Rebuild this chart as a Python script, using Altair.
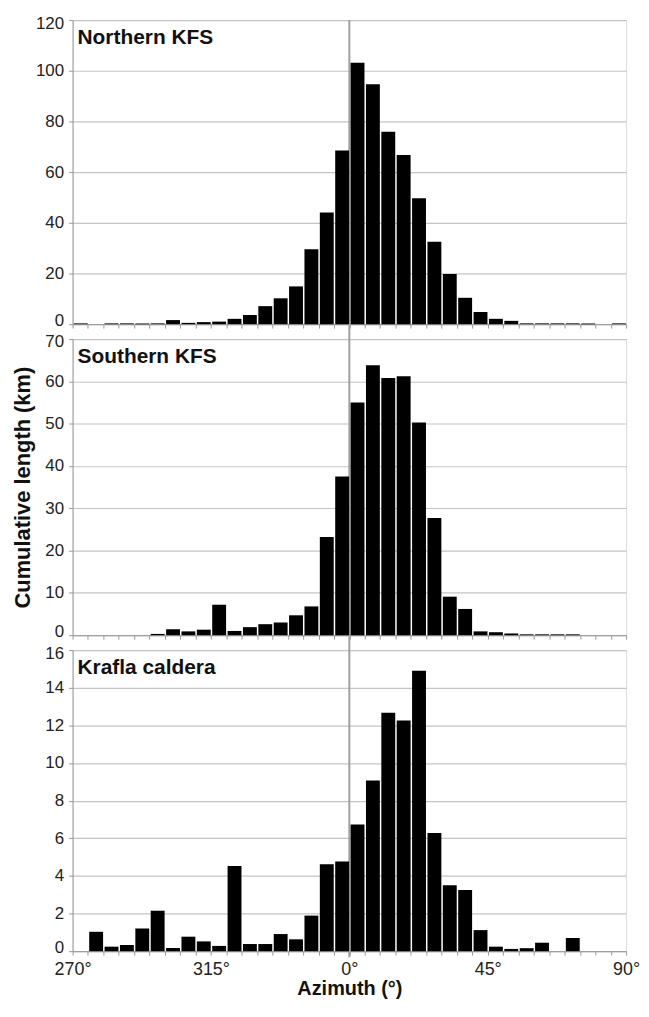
import altair as alt
import pandas as pd

# ---- data ----
bin_starts = list(range(-90, 90, 5))  # 5-degree azimuth bins, -90 (=270°) .. 85

north = [0.3, 0.0, 0.3, 0.3, 0.3, 0.3, 1.6, 0.5, 0.8, 1.0, 2.1, 3.6, 7.1, 10.2, 14.9, 29.6, 44.1, 68.5,
         103.2, 94.7, 75.9, 66.8, 49.7, 32.5, 19.8, 10.4, 4.8, 2.1, 1.3, 0.3, 0.3, 0.3, 0.3, 0.3, 0.0, 0.3]
south = [0.0, 0.0, 0.0, 0.0, 0.0, 0.3, 1.4, 0.9, 1.3, 7.2, 1.0, 1.9, 2.6, 3.0, 4.7, 6.8, 23.2, 37.5,
         55.0, 63.8, 60.8, 61.2, 50.3, 27.7, 9.1, 6.2, 0.9, 0.7, 0.4, 0.2, 0.2, 0.2, 0.2, 0.0, 0.0, 0.0]
krafla = [0.0, 1.03, 0.24, 0.33, 1.2, 2.15, 0.17, 0.77, 0.52, 0.28, 4.53, 0.38, 0.38, 0.91, 0.63, 1.89, 4.62, 4.77,
          6.73, 9.07, 12.67, 12.26, 14.9, 6.28, 3.5, 3.25, 1.12, 0.24, 0.12, 0.16, 0.45, 0.0, 0.70, 0.0, 0.0, 0.0]

panel_names = ["Northern KFS", "Southern KFS", "Krafla caldera"]
panel_values = [north, south, krafla]
y_max = [120, 70, 16]
y_step = [20, 10, 2]
panel_heights = [306, 298, 303]

x_tick_values = list(range(-90, 95, 5))
x_label_values = [-90, -45, 0, 45, 90]
x_label_texts = ["270°", "315°", "0°", "45°", "90°"]

FONT = "Liberation Sans"
PLOT_W = 557

label_expr = ""
for v, t in zip(x_label_values, x_label_texts):
    label_expr += f"datum.value == {v} ? '{t}' : "
label_expr += "''"


def panel(i):
    name = panel_names[i]
    df = pd.DataFrame({"start": bin_starts, "length": panel_values[i]})
    df["end"] = df["start"] + 5
    H = panel_heights[i]
    last = i == len(panel_names) - 1
    first = i == 0

    x_axis = alt.Axis(
        values=x_tick_values,
        labelExpr=label_expr,
        labels=last,
        labelFlush=False,
        title="Azimuth (°)" if last else None,
        grid=False,
        tickSize=4,
        labelPadding=5,
        labelFontSize=18,
        labelFont=FONT,
        labelColor="#222",
        labelOverlap=False,
        titleFont=FONT,
        titleFontSize=20,
        titleFontWeight="bold",
        titleColor="#111",
        titlePadding=1,
        domainColor="#999",
        tickColor="#999",
    )
    y_axis = alt.Axis(
        values=list(range(0, y_max[i] + 1, y_step[i])),
        title="Cumulative length (km)" if i == 1 else None,
        grid=True,
        gridColor="#c4c4c4",
        gridWidth=1.2,
        tickSize=4,
        labelPadding=5,
        labelFontSize=17,
        labelFont=FONT,
        labelColor="#222",
        labelFlush=True,
        labelFlushOffset=5,
        titleFont=FONT,
        titleFontSize=22,
        titleFontWeight="bold",
        titleColor="#111",
        titlePadding=10,
        domainColor="#999",
        tickColor="#999",
    )
    xs = alt.Scale(domain=[-90, 90], nice=False)
    ys = alt.Scale(domain=[0, y_max[i]], nice=False)

    bars = alt.Chart(df).mark_bar(color="black", binSpacing=1.5).encode(
        x=alt.X("start:Q", bin=alt.Bin(binned=True, step=5), scale=xs, axis=x_axis),
        x2="end:Q",
        y=alt.Y("length:Q", scale=ys, axis=y_axis),
    )
    zero = alt.Chart(pd.DataFrame({"az": [0]})).mark_rule(color="#a0a0a0", strokeWidth=2).encode(
        x=alt.X("az:Q", scale=xs),
        y=alt.value(0 if first else -15),
        y2=alt.value(H + 6 if last else H),
    )
    label = alt.Chart(pd.DataFrame({"name": [name]})).mark_text(
        align="left", baseline="top", font=FONT, fontSize=21, fontWeight="bold", color="#111"
    ).encode(
        x=alt.value(5),
        y=alt.value(7),
        text="name:N",
    )
    return alt.layer(zero, bars, label).properties(width=PLOT_W, height=H)


chart = alt.vconcat(*[panel(i) for i in range(3)], spacing=15, bounds="flush").properties(
    padding={"left": 3, "top": 2, "right": 0, "bottom": 0}
).configure_view(stroke=None).configure(background="white")

chart.save("out.html", embed_options={"renderer": "svg", "actions": False})
